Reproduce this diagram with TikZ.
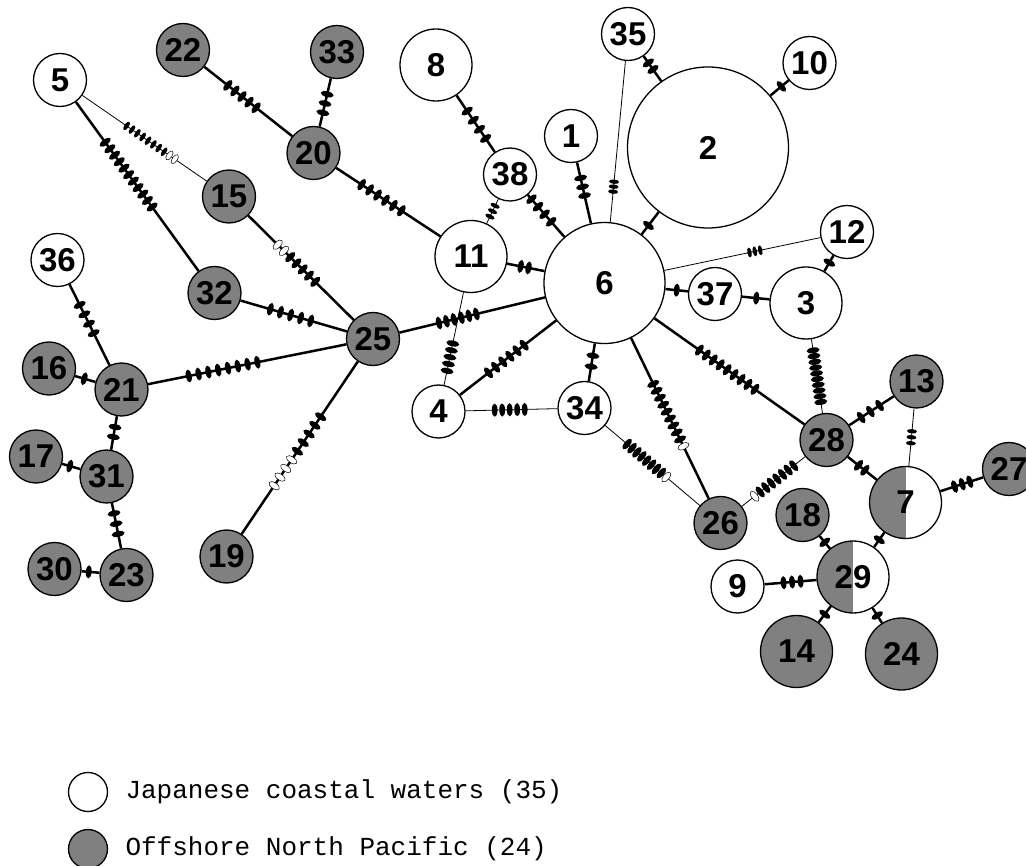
\documentclass[tikz,border=0pt]{standalone}
\usepackage{fontspec}
\usetikzlibrary{decorations.markings}
\newfontfamily\lab{Liberation Sans}
\newfontfamily\mono{Liberation Mono}
\definecolor{ngray}{RGB}{128,128,128}
\def\mrx{2.9}\def\mry{6.6}\def\orx{3.0}\def\ory{6.0}
\newcommand\mutmarks[4]{%
  \pgfmathsetmacro\mk{#1+#2}%
  \pgfmathsetmacro\moff{-(\mk-1)/2*#4}%
  \ifnum#3=1 \def\mfs{0}\def\mos{#1}\else \def\mfs{#2}\def\mos{0}\fi
  \foreach \j in {1,...,#1}{\pgfmathsetmacro\mx{\moff+(\mfs+\j-1)*#4}\fill (\mx pt,0pt) ellipse [x radius=\mrx pt, y radius=\mry pt];}%
  \ifnum#2>0 \foreach \j in {1,...,#2}{\pgfmathsetmacro\mx{\moff+(\mos+\j-1)*#4}\filldraw[fill=white,line width=0.5pt] (\mx pt,0pt) ellipse [x radius=\orx pt, y radius=\ory pt];}\fi
}
\tikzset{
  nd/.style={circle, draw, line width=1.3pt, inner sep=0pt, font={\lab\bfseries\fontsize{33}{33}\selectfont}},
  wn/.style={nd, fill=white},
  gn/.style={nd, fill=ngray},
  hn/.style={nd, fill=white, path picture={\fill[ngray] (path picture bounding box.south west) rectangle (path picture bounding box.north);}},
  sm/.style={minimum size=53pt},
  md/.style={minimum size=72pt},
  thickE/.style={line width=2.5pt},
  thinE/.style={line width=0.8pt},
  muts/.style n args={5}{postaction={decorate,decoration={markings,mark=at position #1 with {\mutmarks{#2}{#3}{#4}{#5}}}}},
  smallmk/.code={\def\mrx{2.2}\def\mry{5.0}\def\orx{2.6}\def\ory{5.2}},
  legtext/.style={anchor=west, font={\mono\fontsize{26}{26}\selectfont}},
}
\begin{document}
\begin{tikzpicture}[x=1pt,y=-1pt]
\useasboundingbox (0,0) rectangle (1026,866);
% nodes
\node[wn,sm] (n5) at (60,80) {5};
\node[gn,sm] (n22) at (183,50) {22};
\node[gn,sm] (n33) at (337,52) {33};
\node[wn,md] (n8) at (436,65) {8};
\node[wn,sm] (n35) at (628,34) {35};
\node[wn,sm] (n10) at (809.5,63) {10};
\node[wn,minimum size=161pt] (n2) at (708,147.5) {2};
\node[wn,sm] (n1) at (571,136) {1};
\node[gn,sm] (n20) at (313.5,153) {20};
\node[wn,sm] (n38) at (510,174.5) {38};
\node[gn,sm] (n15) at (229,196.5) {15};
\node[wn,md] (n11) at (471,256.5) {11};
\node[wn,minimum size=121pt] (n6) at (604.5,283) {6};
\node[wn,sm] (n12) at (847,232) {12};
\node[wn,sm] (n36) at (57.5,260) {36};
\node[gn,sm] (n32) at (214.5,293) {32};
\node[wn,sm] (n37) at (715,294) {37};
\node[wn,md] (n3) at (806,303) {3};
\node[gn,sm] (n25) at (373,339) {25};
\node[gn,sm] (n16) at (49,368.5) {16};
\node[gn,sm] (n21) at (121.5,389.5) {21};
\node[wn,sm] (n4) at (438.5,411.5) {4};
\node[wn,sm] (n34) at (584.5,408) {34};
\node[gn,sm] (n13) at (916.5,381.5) {13};
\node[gn,sm] (n28) at (826.5,440) {28};
\node[gn,sm] (n17) at (36,456.5) {17};
\node[gn,sm] (n31) at (106.5,476.5) {31};
\node[gn,sm] (n27) at (1009,469) {27};
\node[hn,md] (n7) at (905.5,502.5) {7};
\node[gn,sm] (n26) at (720.5,523) {26};
\node[gn,sm] (n18) at (802.5,515) {18};
\node[gn,sm] (n19) at (226.5,556.5) {19};
\node[gn,sm] (n30) at (54.5,569) {30};
\node[gn,sm] (n23) at (126.5,575) {23};
\node[hn,md] (n29) at (853,577) {29};
\node[wn,sm] (n9) at (737.5,586.5) {9};
\node[gn,md] (n14) at (796.5,651.5) {14};
\node[gn,md] (n24) at (901.5,654) {24};
% edges
\draw[thinE, smallmk, muts={0.55}{8}{2}{1}{6.5}] (n5) -- (n15);
\draw[thickE, muts={0.43}{11}{0}{1}{8}] (n5) -- (n32);
\draw[thickE, muts={0.43}{5}{0}{1}{9}] (n22) -- (n20);
\draw[thickE, muts={0.52}{3}{0}{1}{9.5}] (n33) -- (n20);
\draw[thickE, muts={0.435}{6}{0}{1}{9.5}] (n20) -- (n11);
\draw[thickE, muts={0.457}{5}{2}{0}{8.8}] (n15) -- (n25);
\draw[thickE, muts={0.47}{5}{0}{1}{10.5}] (n32) -- (n25);
\draw[thickE, muts={0.43}{4}{0}{1}{10.5}] (n36) -- (n21);
\draw[thickE, muts={0.45}{1}{0}{1}{0}] (n16) -- (n21);
\draw[thickE, muts={0.378}{8}{0}{1}{10}] (n21) -- (n25);
\draw[thickE, muts={0.47}{2}{0}{1}{10}] (n21) -- (n31);
\draw[thickE, muts={0.42}{1}{0}{1}{0}] (n17) -- (n31);
\draw[thickE, muts={0.455}{3}{0}{1}{10.5}] (n31) -- (n23);
\draw[thickE, muts={0.4}{1}{0}{1}{0}] (n30) -- (n23);
\draw[thickE, muts={0.52}{5}{4}{1}{10.4}] (n25) -- (n19);
\draw[thickE, muts={0.40}{6}{0}{1}{7.7}] (n25) -- (n6);
\draw[thickE, muts={0.52}{4}{0}{1}{11}] (n8) -- (n38);
\draw[thickE, muts={0.37}{4}{0}{1}{10}] (n38) -- (n6);
\draw[thinE, smallmk, muts={0.5}{3}{0}{1}{6}] (n38) -- (n11);
\draw[thickE, muts={0.47}{2}{0}{1}{8}] (n11) -- (n6);
\draw[thinE, muts={0.70}{5}{0}{1}{7}] (n11) -- (n4);
\draw[thickE, muts={0.40}{3}{0}{1}{9}] (n1) -- (n6);
\draw[thinE, smallmk, muts={0.78}{3}{0}{1}{5}] (n35) -- (n6);
\draw[thickE, muts={0.40}{2}{0}{1}{8}] (n35) -- (n2);
\draw[thickE, muts={0.6}{1}{0}{1}{0}] (n2) -- (n6);
\draw[thickE, muts={0.6}{1}{0}{1}{0}] (n2) -- (n10);
\draw[thinE, smallmk, muts={0.58}{3}{0}{1}{5.5}] (n6) -- (n12);
\draw[thickE, muts={0.45}{1}{0}{1}{0}] (n12) -- (n3);
\draw[thickE, muts={0.5}{1}{0}{1}{0}] (n6) -- (n37);
\draw[thickE, muts={0.52}{1}{0}{1}{0}] (n37) -- (n3);
\draw[thinE, muts={0.50}{10}{0}{1}{5.8}] (n3) -- (n28);
\draw[thickE, muts={0.485}{9}{0}{1}{8.5}] (n6) -- (n28);
\draw[thickE, muts={0.52}{6}{0}{1}{9}] (n6) -- (n4);
\draw[thickE, muts={0.47}{2}{0}{1}{11}] (n6) -- (n34);
\draw[thinE, muts={0.48}{5}{0}{1}{7.5}] (n4) -- (n34);
\draw[thickE, muts={0.48}{9}{1}{1}{7.7}] (n6) -- (n26);
\draw[thinE, muts={0.44}{8}{1}{1}{6.4}] (n34) -- (n26);
\draw[thinE, muts={0.49}{7}{1}{1}{7.1}] (n28) -- (n26);
\draw[thickE, muts={0.475}{3}{0}{1}{11}] (n28) -- (n13);
\draw[thinE, smallmk, muts={0.50}{3}{0}{1}{6}] (n13) -- (n7);
\draw[thickE, muts={0.48}{2}{0}{1}{8}] (n28) -- (n7);
\draw[thickE, muts={0.51}{3}{0}{1}{8}] (n7) -- (n27);
\draw[thickE, muts={0.5}{1}{0}{1}{0}] (n7) -- (n29);
\draw[thickE, muts={0.5}{1}{0}{1}{0}] (n18) -- (n29);
\draw[thickE, muts={0.53}{3}{0}{1}{8.5}] (n9) -- (n29);
\draw[thickE, muts={0.5}{1}{0}{1}{0}] (n29) -- (n14);
\draw[thickE, muts={0.5}{1}{0}{1}{0}] (n29) -- (n24);
% legend
\node[wn,minimum size=39pt] (lw) at (88,792) {};
\node[gn,minimum size=39pt] (lg) at (88,849) {};
\node[legtext] (lt1) at (122,792) {Japanese coastal waters (35)};
\node[legtext] (lt2) at (122,849) {Offshore North Pacific (24)};
\end{tikzpicture}
\end{document}
